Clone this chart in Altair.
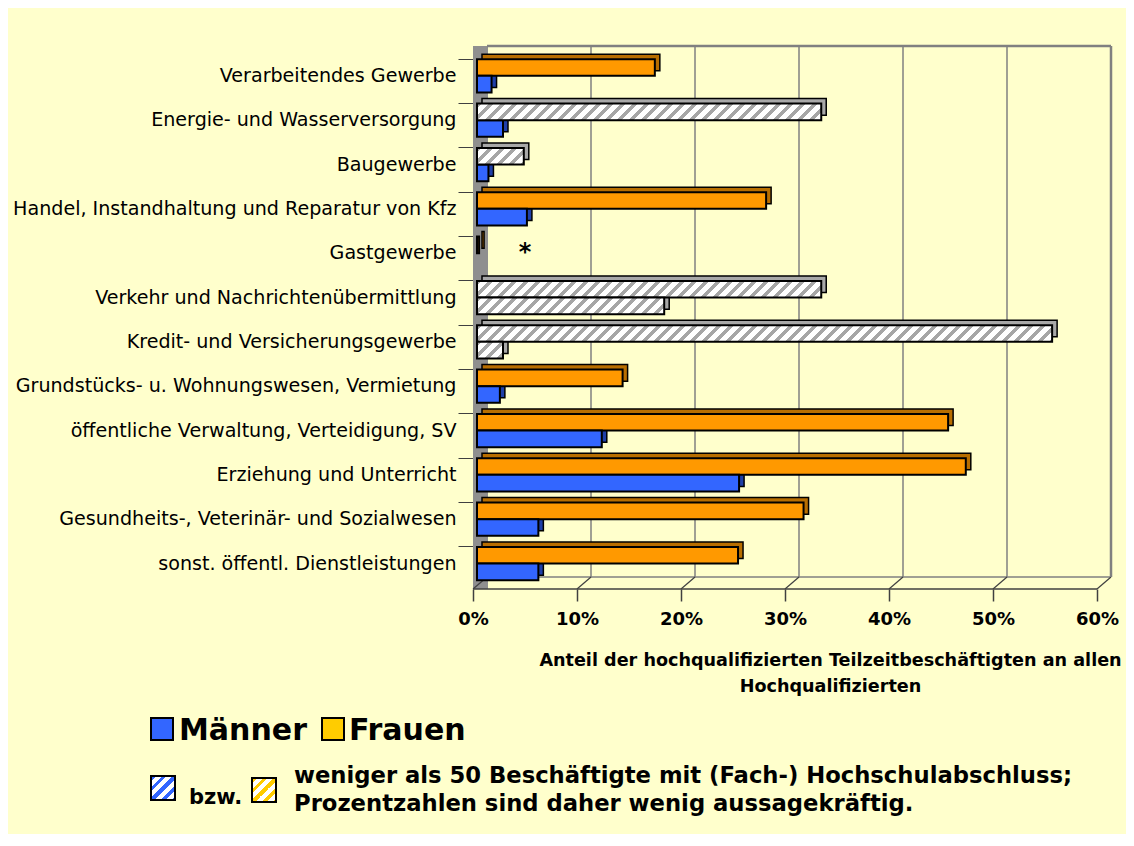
import altair as alt
import pandas as pd

# ---------------- data ----------------
categories = [
    "Verarbeitendes Gewerbe",
    "Energie- und Wasserversorgung",
    "Baugewerbe",
    "Handel, Instandhaltung und Reparatur von Kfz",
    "Gastgewerbe",
    "Verkehr und Nachrichtenübermittlung",
    "Kredit- und Versicherungsgewerbe",
    "Grundstücks- u. Wohnungswesen, Vermietung",
    "öffentliche Verwaltung, Verteidigung, SV",
    "Erziehung und Unterricht",
    "Gesundheits-, Veterinär- und Sozialwesen",
    "sonst. öffentl. Dienstleistungen",
]
frauen = [17.1, 33.1, 4.5, 27.8, 0.2, 33.1, 55.3, 14.0, 45.3, 47.0, 31.4, 25.1]
maenner = [1.4, 2.5, 1.1, 4.8, None, 18.0, 2.5, 2.2, 12.0, 25.2, 5.9, 5.9]
frauen_wenig = [False, True, True, False, False, True, True, False, False, False, False, False]
maenner_wenig = [False, False, False, False, False, True, True, False, False, False, False, False]
ticks = [0, 10, 20, 30, 40, 50, 60]
series = ["Frauen", "Männer"]
legend_labels = ["Männer", "Frauen"]
note_lines = ["weniger als 50 Beschäftigte mit (Fach-) Hochschulabschluss;",
              "Prozentzahlen sind daher wenig aussagekräftig."]
bzw_text = ["bzw."]
x_title = ["Anteil der hochqualifizierten Teilzeitbeschäftigten an allen", "Hochqualifizierten"]
star_cat = ["Gastgewerbe"]

rows = []
for c, f, m, fw, mw in zip(categories, frauen, maenner, frauen_wenig, maenner_wenig):
    if f is not None:
        rows.append({"cat": c, "sex": "Frauen", "val": f, "wenig": fw,
                     "grp": "wenig" if fw else "Frauen"})
    if m is not None:
        rows.append({"cat": c, "sex": "Männer", "val": m, "wenig": mw,
                     "grp": "wenig" if mw else "Männer"})
df = pd.DataFrame(rows)
df_ticks = pd.DataFrame({"v": ticks})
df_edge = pd.DataFrame({"a": [ticks[0]], "b": [ticks[-1]]})

# ---------------- geometry / style ----------------
PAD_L, PAD_T, W, H = 469, 49, 624, 532
PAD_R, PAD_B = 25, 245
XMAX = ticks[-1]
STEP = H / len(categories)
BAND = STEP * 0.75
BAR_H = BAND / 2
DEPTH = 5
FONT = "DejaVu Sans"
ORANGE, BLUE, YELLOW = "#FF9900", "#3366FF", "#FFCC00"
GRID = "#808080"

xs = alt.Scale(domain=[0, XMAX], nice=False, zero=True)
xaxis = alt.Axis(values=ticks, labelExpr="datum.value + '%'", grid=False, domain=False,
                 tickColor="#404040", tickSize=12, tickWidth=1.5, tickOffset=-4,
                 labelFont=FONT, labelFontSize=18, labelFontWeight="bold", labelColor="black",
                 labelPadding=9, labelFlush=False,
                 title=x_title, titleFont=FONT, titleFontSize=17.6, titleFontWeight="bold",
                 titleColor="black", titleX=353, titleY=62, titleAlign="center",
                 titleBaseline="top", titleLineHeight=26)
ys = alt.Scale(domain=categories, paddingInner=0.25, paddingOuter=0.125, align=0.2)
yaxis = alt.Axis(title=None, labelFont=FONT, labelFontSize=19.1, labelColor="black",
                 labelLimit=600, tickSize=16, tickColor="#404040", tickWidth=1,
                 bandPosition=0, domain=False, labelPadding=2, offset=3)


def X(field):
    return alt.X(field, type="quantitative", scale=xs, axis=xaxis)


def Y():
    return alt.Y("cat:N", scale=ys, axis=yaxis)


def YO(shift=0.0):
    return alt.YOffset("sex:N", scale=alt.Scale(domain=series, paddingInner=0, paddingOuter=0,
                                                range=[shift, BAND + shift]))


def hatch(w, h, c1, c2, period=12.0, gw=5.0):
    r = h / w
    a = (1 + r) / (1 + r * r)
    b = a * r
    L = w + h
    stops = []
    k = 0
    while k * period < L:
        s = k * period / L
        e = min((k * period + gw) / L, 1.0)
        n = min((k + 1) * period / L, 1.0)
        stops += [(s, c1), (e, c1), (e, c2), (n, c2)]
        k += 1
    return alt.LinearGradient(
        gradient="linear",
        stops=[alt.GradientStop(color=c, offset=round(o, 5)) for o, c in stops],
        x1=0, y1=0, x2=a, y2=b)


layers = []

# left side wall
layers.append(alt.Chart(df_edge).mark_rect(color="#8F8F8F").encode(
    x=alt.value(-4), x2=alt.value(11), y=alt.value(-11), y2=alt.value(H)))

# back-wall gridlines
layers.append(alt.Chart(df_ticks).mark_rule(color=GRID, strokeWidth=1.5, xOffset=10)
              .encode(x=X("v"), y=alt.value(-11), y2=alt.value(H - 12))
              .transform_filter("datum.v > 0"))
# back-wall top edge and floor edges
layers.append(alt.Chart(df_edge).mark_rule(color=GRID, strokeWidth=2.5, xOffset=10, x2Offset=10)
              .encode(x=X("a"), x2="b", y=alt.value(-11)))
layers.append(alt.Chart(df_edge).mark_rule(color=GRID, strokeWidth=1.5, xOffset=10, x2Offset=10)
              .encode(x=X("a"), x2="b", y=alt.value(H - 12)))
layers.append(alt.Chart(df_edge).mark_rule(color="#404040", strokeWidth=1.5, xOffset=-4, x2Offset=-4)
              .encode(x=X("a"), x2="b", y=alt.value(H)))
layers.append(alt.Chart(df_ticks).mark_rule(color="#404040", strokeWidth=1.2, xOffset=-4, x2Offset=10)
              .encode(x=X("v"), x2="v", y=alt.value(H), y2=alt.value(H - 12)))
# right edge of back wall
layers.append(alt.Chart(df_edge).mark_rule(color=GRID, strokeWidth=2.5, xOffset=10)
              .encode(x=X("b"), y=alt.value(-11), y2=alt.value(H - 12)))

# 3D depth (top + side faces), shifted up/right
layers.append(alt.Chart(df).mark_bar(stroke="black", strokeWidth=1.5, xOffset=DEPTH,
                                     x2Offset=DEPTH).encode(
    x=X("val"), y=Y(), yOffset=YO(-DEPTH),
    fill=alt.Fill("grp:N", scale=alt.Scale(domain=["Frauen", "Männer", "wenig"],
                                           range=["#B86E00", "#1F3FA8", "#A8A8A8"]), legend=None)))

# front faces, normal bars
layers.append(alt.Chart(df).transform_filter("!datum.wenig").mark_bar(
    stroke="black", strokeWidth=2).encode(
    x=X("val"), y=Y(), yOffset=YO(),
    color=alt.Color("sex:N", scale=alt.Scale(domain=series, range=[ORANGE, BLUE]), legend=None)))

# front faces, hatched bars (few observations)
for rec in df[df["wenig"]].to_dict("records"):
    w = rec["val"] / XMAX * W
    g = hatch(w, BAR_H, "#A6A6A6", "#FFFFFF")
    layers.append(alt.Chart(df).transform_filter(
        alt.FieldEqualPredicate(field="cat", equal=rec["cat"])).transform_filter(
        alt.FieldEqualPredicate(field="sex", equal=rec["sex"])).mark_bar(
        fill=g, stroke="black", strokeWidth=2).encode(x=X("val"), y=Y(), yOffset=YO()))

# asterisk (no data)
layers.append(alt.Chart(pd.DataFrame({"cat": star_cat, "t": ["*"]})).mark_text(
    font=FONT, fontSize=24, fontWeight="bold", color="black", baseline="alphabetic",
    align="center", dy=7).encode(x=alt.value(48), y=Y(), text="t:N"))

# ---------------- legend ----------------
def box(x0, x1, y0, y1, fill):
    return alt.Chart(df_edge).mark_rect(fill=fill, stroke="black", strokeWidth=2).encode(
        x=alt.value(x0), x2=alt.value(x1), y=alt.value(y0), y2=alt.value(y1))


def label(txt, x0, y0, size):
    return alt.Chart(pd.DataFrame({"t": [txt]})).mark_text(
        font=FONT, fontSize=size, fontWeight="bold", color="black", align="left",
        baseline="alphabetic").encode(x=alt.value(x0), y=alt.value(y0), text="t:N")


layers.append(box(-326, -304, 661, 683, BLUE))
layers.append(label(legend_labels[0], -298, 683, 30))
layers.append(box(-155, -133, 661, 683, YELLOW))
layers.append(label(legend_labels[1], -128, 683, 30))
layers.append(box(-326, -302, 719, 743, hatch(24, 24, BLUE, "#FFFFFF", period=11, gw=5)))
layers.append(label(bzw_text[0], -288, 747, 21))
layers.append(box(-225, -201, 721, 745, hatch(24, 24, YELLOW, "#FFFFFF", period=11, gw=5)))
layers.append(label(note_lines[0], -183, 726, 22.7))
layers.append(label(note_lines[1], -183, 754, 22.7))

chart = alt.layer(*layers).resolve_scale(yOffset="independent").properties(
    width=W, height=H, background="#FFFFCC",
    padding={"left": PAD_L, "top": PAD_T, "right": PAD_R, "bottom": PAD_B},
    autosize=alt.AutoSizeParams(type="none"),
).configure_view(stroke=None)

chart.save("out.html", embed_options={"renderer": "svg", "actions": False})
